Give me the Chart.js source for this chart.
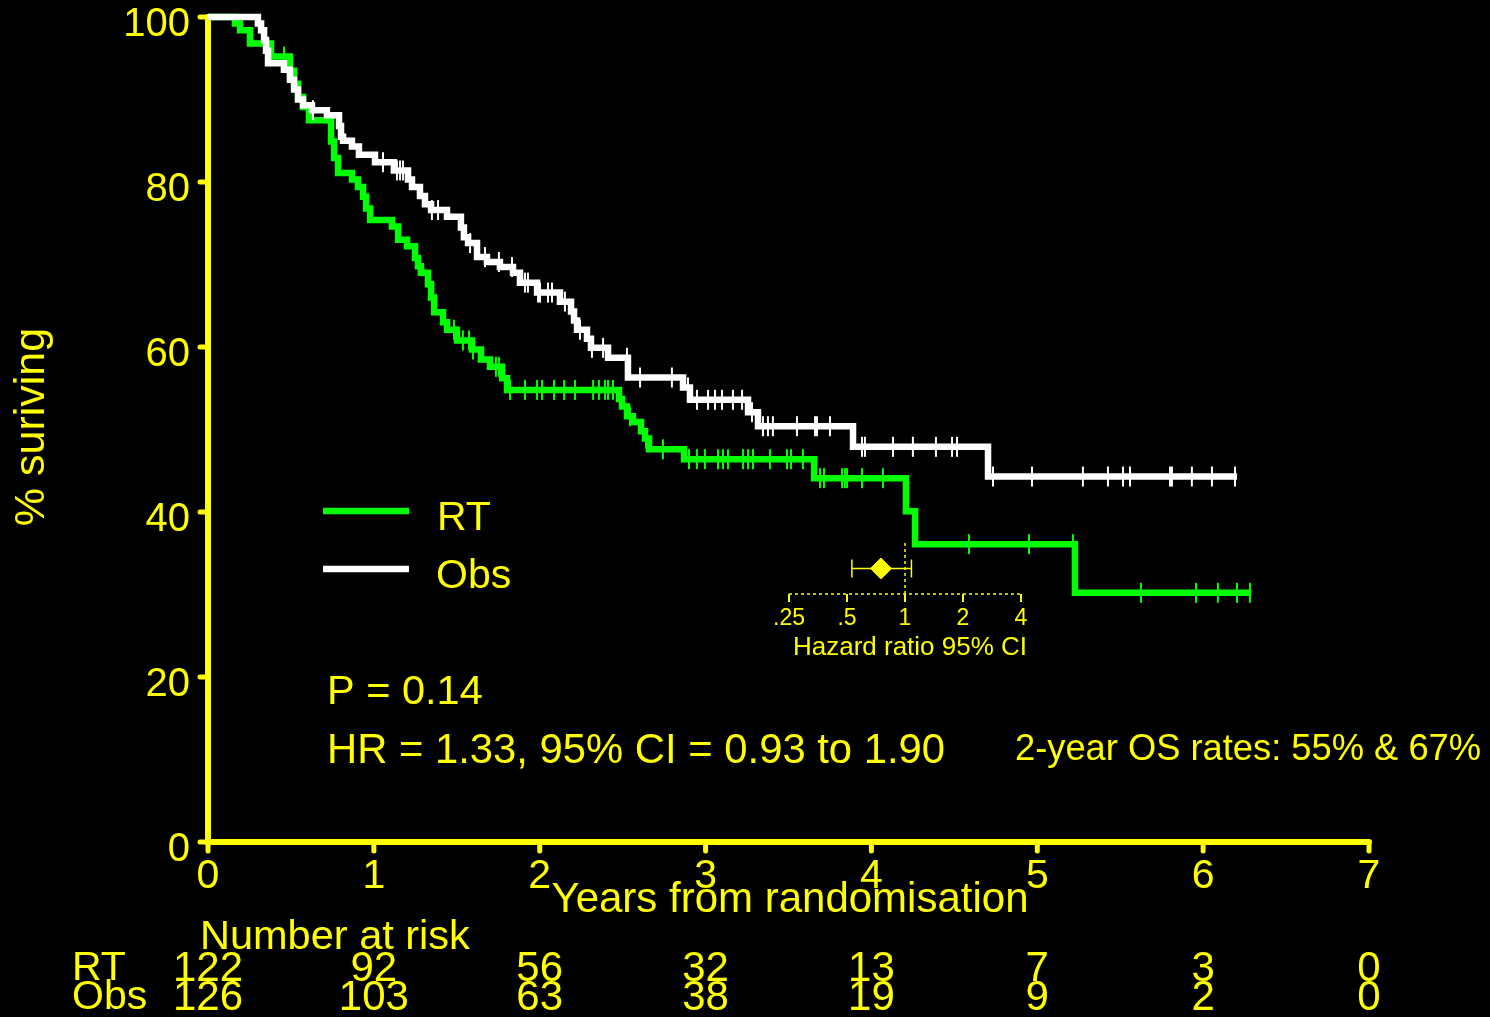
<!DOCTYPE html>
<html>
<head>
<meta charset="utf-8">
<title>Survival: RT vs Obs</title>
<script src="https://cdn.jsdelivr.net/npm/chart.js"></script>
<style>
  html, body { margin: 0; padding: 0; background: #000; overflow: hidden; }
  #wrap { position: relative; width: 1490px; height: 1017px; }
  #km { position: absolute; left: 0; top: 0; }
  #hr { position: absolute; left: 740px; top: 520px; }
</style>
</head>
<body>
<div id="wrap">
  <canvas id="km" width="1490" height="1017"></canvas>
  <canvas id="hr" width="340" height="150"></canvas>
</div>
<script>
// Kaplan-Meier steps, years / % surviving
const rtTimes = [0, 0.163, 0.193, 0.253, 0.380, 0.494, 0.519, 0.543, 0.573, 0.609, 0.742, 0.760, 0.784, 0.868, 0.904, 0.935, 0.953, 0.977, 1.109, 1.146, 1.200, 1.248, 1.266, 1.284, 1.326, 1.345, 1.363, 1.417, 1.441, 1.501, 1.592, 1.646, 1.700, 1.773, 1.803, 2.478, 2.496, 2.526, 2.562, 2.611, 2.635, 2.659, 2.870, 3.654, 4.208, 4.263, 5.227, 6.283];
const rtSurv = [100, 99.2, 98.4, 96.8, 95.2, 93.5, 91.9, 90.3, 89.1, 87.5, 84.9, 82.9, 81.1, 80.3, 79.4, 78.2, 76.8, 75.4, 74.6, 73.0, 72.2, 70.8, 69.8, 69.0, 67.6, 66.0, 64.2, 63.0, 62.1, 60.8, 59.7, 58.5, 57.6, 56.2, 54.8, 53.7, 52.8, 51.6, 50.9, 49.8, 48.9, 47.6, 46.4, 44.1, 40.1, 36.1, 30.2, 30.2];
const obsTimes = [0, 0.301, 0.320, 0.338, 0.350, 0.362, 0.458, 0.494, 0.519, 0.543, 0.573, 0.627, 0.717, 0.790, 0.802, 0.814, 0.868, 0.910, 1.007, 1.121, 1.206, 1.230, 1.278, 1.308, 1.345, 1.441, 1.525, 1.543, 1.568, 1.622, 1.682, 1.760, 1.839, 1.881, 1.984, 2.122, 2.189, 2.207, 2.225, 2.285, 2.309, 2.412, 2.532, 2.864, 2.906, 3.256, 3.316, 3.889, 4.703, 6.204];
const obsSurv = [100, 99.2, 98.4, 97.2, 95.9, 94.4, 93.6, 92.4, 91.2, 90.0, 89.3, 88.7, 88.1, 86.8, 85.5, 85.0, 84.3, 83.3, 82.4, 81.4, 80.3, 79.4, 78.3, 77.3, 76.6, 75.8, 74.5, 73.3, 72.6, 70.9, 70.3, 69.7, 69.0, 67.8, 66.6, 65.5, 64.3, 63.2, 62.1, 61.0, 59.9, 58.7, 56.3, 55.1, 53.6, 52.1, 50.4, 47.9, 44.3, 44.3];

// censoring times (years)
const rtCensor = [0.458, 1.483, 1.537, 1.574, 1.598, 1.736, 1.754, 1.821, 1.911, 1.984, 2.014, 2.086, 2.147, 2.213, 2.322, 2.357, 2.394, 2.412, 2.442, 2.544, 2.641, 2.743, 2.900, 2.948, 2.996, 3.075, 3.105, 3.135, 3.226, 3.256, 3.286, 3.388, 3.491, 3.515, 3.587, 3.690, 3.714, 3.823, 3.840, 3.853, 3.943, 4.070, 4.588, 4.950, 5.215, 5.625, 5.957, 6.089, 6.204, 6.282];
const obsCensor = [0.633, 1.055, 1.139, 1.158, 1.176, 1.218, 1.350, 1.387, 1.580, 1.670, 1.754, 1.833, 1.911, 1.929, 1.990, 2.002, 2.050, 2.074, 2.152, 2.243, 2.315, 2.382, 2.526, 2.605, 2.797, 2.894, 2.948, 3.015, 3.057, 3.099, 3.165, 3.220, 3.280, 3.346, 3.376, 3.406, 3.551, 3.660, 3.672, 3.750, 3.943, 3.961, 4.130, 4.250, 4.389, 4.486, 4.516, 4.733, 4.968, 5.275, 5.426, 5.517, 5.559, 5.800, 5.812, 5.932, 6.053, 6.192];

const xTicks = [0, 1, 2, 3, 4, 5, 6, 7];
const yTicks = [0, 20, 40, 60, 80, 100];

// number at risk at each year
const riskRT = [122, 92, 56, 32, 13, 7, 3, 0];
const riskObs = [126, 103, 63, 38, 19, 9, 2, 0];

// hazard ratio inset
const hrTicks = [0.25, 0.5, 1, 2, 4];
const hrTickLabels = ['.25', '.5', '1', '2', '4'];
const hrEstimate = 0.75;
const hrLower = 0.53;
const hrUpper = 1.08;

const pText = 'P = 0.14';
const hrText = 'HR = 1.33, 95% CI = 0.93 to 1.90';
const osText = '2-year OS rates: 55% & 67%';

const FONT = '"Liberation Sans", Arial, Helvetica, sans-serif';
const YELLOW = '#ffff00';
const GREEN = '#00ff00';
const WHITE = '#ffffff';

function survAt(times, surv, t) {
    let s = surv[0];
    for (let i = 0; i < times.length; i++) {
        if (times[i] <= t) s = surv[i];
    }
    return s;
}

function label(ctx, str, x, y, size, align, color) {
    ctx.font = size + 'px ' + FONT;
    ctx.fillStyle = color || YELLOW;
    ctx.textAlign = align || 'center';
    ctx.textBaseline = 'middle';
    ctx.fillText(str, x, y);
}

const kmFrame = {
    id: 'kmFrame',
    beforeDatasetsDraw(chart) {
        const { ctx, scales: { x, y } } = chart;
        const x0 = x.getPixelForValue(0), x7 = x.getPixelForValue(7);
        const y0 = y.getPixelForValue(0), y100 = y.getPixelForValue(100);
        ctx.save();
        ctx.strokeStyle = YELLOW;
        ctx.lineCap = 'round';
        ctx.lineWidth = 6;
        ctx.beginPath();
        ctx.moveTo(x0, y100);
        ctx.lineTo(x0, y0);
        ctx.lineTo(x7, y0);
        ctx.stroke();
        ctx.lineWidth = 5;
        yTicks.forEach(v => {
            const py = y.getPixelForValue(v);
            ctx.beginPath(); ctx.moveTo(x0 - 8, py); ctx.lineTo(x0, py); ctx.stroke();
        });
        xTicks.forEach(v => {
            const px = x.getPixelForValue(v);
            ctx.beginPath(); ctx.moveTo(px, y0); ctx.lineTo(px, y0 + 9); ctx.stroke();
        });
        ctx.restore();
    },
    afterDraw(chart) {
        const { ctx, scales: { x, y } } = chart;
        const x0 = x.getPixelForValue(0);
        ctx.save();
        // axis labels
        yTicks.forEach(v => label(ctx, String(v), x0 - 18, y.getPixelForValue(v) + 8, 40, 'right'));
        xTicks.forEach(v => label(ctx, String(v), x.getPixelForValue(v), 877, 41));
        label(ctx, 'Years from randomisation', 790, 900, 42);
        ctx.save();
        ctx.translate(44, 427);
        ctx.rotate(-Math.PI / 2);
        ctx.font = '43px ' + FONT;
        ctx.fillStyle = YELLOW;
        ctx.textAlign = 'center';
        ctx.textBaseline = 'alphabetic';
        ctx.fillText('% suriving', 0, 0);
        ctx.restore();

        // legend
        ctx.lineWidth = 6.5;
        ctx.strokeStyle = GREEN;
        ctx.beginPath(); ctx.moveTo(323, 511); ctx.lineTo(409, 511); ctx.stroke();
        ctx.strokeStyle = WHITE;
        ctx.beginPath(); ctx.moveTo(323, 569); ctx.lineTo(409, 569); ctx.stroke();
        label(ctx, 'RT', 437, 519, 41, 'left');
        label(ctx, 'Obs', 436, 577, 41, 'left');

        // test results
        label(ctx, pText, 327, 693, 41.5, 'left');
        label(ctx, hrText, 327, 751, 41.8, 'left');
        label(ctx, osText, 1015, 750, 36.3, 'left');

        // number at risk
        label(ctx, 'Number at risk', 200, 938, 41.5, 'left');
        label(ctx, 'RT', 72, 969, 41, 'left');
        label(ctx, 'Obs', 72, 998, 41, 'left');
        xTicks.forEach((v, i) => {
            const px = x.getPixelForValue(v);
            label(ctx, String(riskRT[i]), px, 969, 42);
            label(ctx, String(riskObs[i]), px, 998, 42);
        });
        ctx.restore();
    }
};

function censorPoints(times, surv, censor) {
    return censor.map(t => ({ x: t, y: survAt(times, surv, t) }));
}

const kmChart = new Chart(document.getElementById('km'), {
    type: 'line',
    data: {
        datasets: [
            {
                label: 'Obs censored',
                type: 'scatter',
                data: censorPoints(obsTimes, obsSurv, obsCensor),
                pointStyle: 'line',
                rotation: 90,
                pointRadius: 10,
                borderColor: WHITE,
                borderWidth: 2,
                clip: false
            },
            {
                label: 'Obs',
                data: obsTimes.map((t, i) => ({ x: t, y: obsSurv[i] })),
                stepped: 'before',
                borderColor: WHITE,
                borderWidth: 6.5,
                borderJoinStyle: 'miter',
                pointRadius: 0,
                fill: false,
                clip: false
            },
            {
                label: 'RT censored',
                type: 'scatter',
                data: censorPoints(rtTimes, rtSurv, rtCensor),
                pointStyle: 'line',
                rotation: 90,
                pointRadius: 10,
                borderColor: GREEN,
                borderWidth: 2,
                clip: false
            },
            {
                label: 'RT',
                data: rtTimes.map((t, i) => ({ x: t, y: rtSurv[i] })),
                stepped: 'before',
                borderColor: GREEN,
                borderWidth: 6.5,
                borderJoinStyle: 'miter',
                pointRadius: 0,
                fill: false,
                clip: false
            }
        ]
    },
    options: {
        responsive: false,
        animation: false,
        devicePixelRatio: 1,
        events: [],
        layout: { padding: { left: 208, right: 121, top: 17, bottom: 175 } },
        scales: {
            x: { type: 'linear', min: 0, max: 7, display: false },
            y: { type: 'linear', min: 0, max: 100, display: false }
        },
        plugins: { legend: { display: false }, tooltip: { enabled: false } }
    },
    plugins: [kmFrame]
});

// hazard ratio inset
const hrFrame = {
    id: 'hrFrame',
    beforeDatasetsDraw(chart) {
        const { ctx, chartArea: a, scales: { x } } = chart;
        ctx.save();
        ctx.strokeStyle = YELLOW;
        ctx.lineWidth = 1.5;
        ctx.setLineDash([3, 3]);
        ctx.beginPath(); ctx.moveTo(a.left, a.bottom); ctx.lineTo(a.right, a.bottom); ctx.stroke();
        const p1 = x.getPixelForValue(1);
        ctx.beginPath(); ctx.moveTo(p1, a.top); ctx.lineTo(p1, a.bottom); ctx.stroke();
        ctx.setLineDash([]);
        ctx.lineWidth = 2;
        hrTicks.forEach((v, i) => {
            const px = x.getPixelForValue(v);
            ctx.beginPath(); ctx.moveTo(px, a.bottom); ctx.lineTo(px, a.bottom + 8); ctx.stroke();
            label(ctx, hrTickLabels[i], px, a.bottom + 25, 23);
        });
        label(ctx, 'Hazard ratio 95% CI', p1 + 5, a.bottom + 54, 26);
        ctx.restore();
    }
};

const hrChart = new Chart(document.getElementById('hr'), {
    type: 'scatter',
    data: {
        datasets: [
            {
                label: 'HR',
                data: [{ x: hrEstimate, y: 0 }],
                pointStyle: 'rectRot',
                pointRadius: 10.5,
                backgroundColor: YELLOW,
                borderColor: YELLOW,
                borderWidth: 1
            },
            {
                label: 'CI caps',
                data: [{ x: hrLower, y: 0 }, { x: hrUpper, y: 0 }],
                pointStyle: 'line',
                rotation: 90,
                pointRadius: 9,
                borderColor: YELLOW,
                borderWidth: 1.5
            },
            {
                label: '95% CI',
                type: 'line',
                data: [{ x: hrLower, y: 0 }, { x: hrUpper, y: 0 }],
                borderColor: YELLOW,
                borderWidth: 1.5,
                pointRadius: 0
            }
        ]
    },
    options: {
        responsive: false,
        animation: false,
        devicePixelRatio: 1,
        events: [],
        layout: { padding: { left: 49, right: 59, top: 23, bottom: 76 } },
        scales: {
            x: { type: 'logarithmic', min: 0.25, max: 4, display: false },
            y: { type: 'linear', min: -1, max: 1, display: false }
        },
        plugins: { legend: { display: false }, tooltip: { enabled: false } }
    },
    plugins: [hrFrame]
});
</script>
</body>
</html>
